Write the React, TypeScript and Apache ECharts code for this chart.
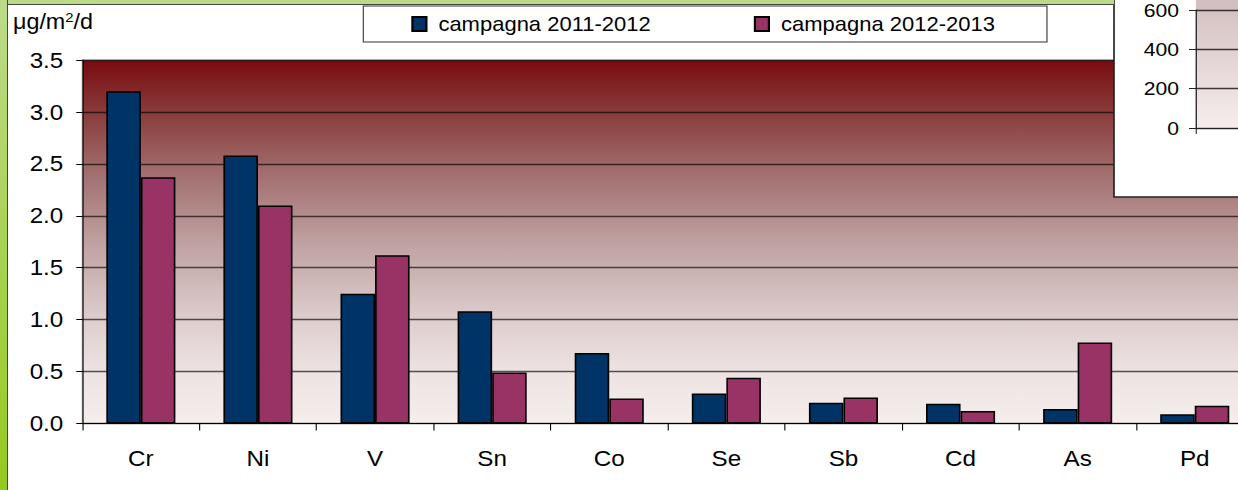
import React, { useEffect, useRef } from "react";
import * as echarts from "echarts";

const categories = ["Cr", "Ni", "V", "Sn", "Co", "Se", "Sb", "Cd", "As", "Pd"];
const seriesNames = ["campagna 2011-2012", "campagna 2012-2013"];
const campagna2011 = [3.2, 2.58, 1.25, 1.08, 0.68, 0.29, 0.2, 0.19, 0.14, 0.09];
const campagna2012 = [2.37, 2.1, 1.62, 0.49, 0.24, 0.44, 0.25, 0.12, 0.78, 0.17];
const yMin = 0;
const yMax = 3.5;
const yInterval = 0.5;
const insetCategories = [""];
const insetMin = 0;
const insetMax = 600;
const insetInterval = 200;

const S = 1.1;
const FONT = "'Liberation Sans', Arial, Helvetica, sans-serif";
const px = (x: number) => x / S;

export default function App() {
  const ref = useRef<HTMLDivElement>(null);
  useEffect(() => {
    document.body.style.margin = "0";
    const chart = echarts.init(ref.current!, undefined, { renderer: "svg" });
    const mainBg = new echarts.graphic.LinearGradient(0, 0, 0, 1, [
      { offset: 0, color: "#790b0f" },
      { offset: 0.15, color: "#8a3d3d" },
      { offset: 0.3, color: "#a06b6b" },
      { offset: 0.5, color: "#bfa0a0" },
      { offset: 0.7, color: "#dccbcb" },
      { offset: 0.85, color: "#ece2e1" },
      { offset: 1, color: "#f5eeed" },
    ]);
    const insetBg = new echarts.graphic.LinearGradient(0, 0, 0, 1, [
      { offset: 0, color: "#d6c3c3" },
      { offset: 1, color: "#f5eeed" },
    ]);
    chart.setOption({
      animation: false,
      textStyle: { fontFamily: FONT },
      title: {
        text: "{a|μg/m}{b|2}{a|/d}",
        left: px(13),
        top: 10,
        padding: 0,
        textStyle: {
          fontWeight: "normal",
          rich: {
            a: { fontSize: 21.2, fontWeight: "normal", color: "#000", fontFamily: FONT, lineHeight: 24 },
            b: {
              fontSize: 13.5,
              fontWeight: "normal",
              color: "#000",
              fontFamily: FONT,
              verticalAlign: "top",
              lineHeight: 24,
              padding: [0, 0, 10, 0],
            },
          },
        },
      },
      legend: {
        left: px(363.3),
        top: 6,
        padding: [8, px(52), 8, px(48)],
        itemGap: px(103),
        itemWidth: px(14),
        itemHeight: 14,
        icon: "rect",
        backgroundColor: "#fff",
        borderColor: "#333",
        borderWidth: 1,
        textStyle: { fontSize: 20, color: "#000", fontFamily: FONT, padding: [0, 0, 0, px(12) - 5] },
        data: seriesNames,
      },
      grid: [
        {
          left: px(82.3),
          top: 60,
          width: px(1171),
          height: 363.5,
          show: true,
          backgroundColor: mainBg,
          borderColor: "#999",
          borderWidth: 1,
        },
        {
          left: px(1196),
          top: 10,
          width: px(120),
          height: 118,
          show: true,
          backgroundColor: insetBg,
          borderWidth: 0,
          z: 101,
        },
      ],
      xAxis: [
        {
          type: "category",
          gridIndex: 0,
          data: categories,
          axisLine: { lineStyle: { color: "#000", width: 1 } },
          axisTick: { show: true, length: 7, lineStyle: { color: "#000", width: 1 } },
          axisLabel: { fontSize: 22, color: "#000", margin: 23.5, fontFamily: FONT },
          splitLine: { show: false },
        },
        {
          type: "category",
          gridIndex: 1,
          data: insetCategories,
          z: 101,
          axisLine: { lineStyle: { color: "#222", width: 1.2 } },
          axisTick: { show: true, length: 6, lineStyle: { color: "#222" } },
          axisLabel: { show: false },
          splitLine: { show: false },
        },
      ],
      yAxis: [
        {
          type: "value",
          gridIndex: 0,
          min: yMin,
          max: yMax,
          interval: yInterval,
          axisLine: { show: true, lineStyle: { color: "#000", width: 1 } },
          axisTick: { show: true, length: px(6), lineStyle: { color: "#000" } },
          axisLabel: {
            fontSize: 22,
            color: "#000",
            margin: px(19),
            fontFamily: FONT,
            formatter: (v: number) => v.toFixed(1),
          },
          splitLine: { show: true, lineStyle: { color: "rgba(0,0,0,0.65)", width: 1.3 } },
        },
        {
          type: "value",
          gridIndex: 1,
          min: insetMin,
          max: insetMax,
          interval: insetInterval,
          z: 101,
          axisLine: { show: true, lineStyle: { color: "#222", width: 1.2 } },
          axisTick: { show: true, length: px(7), lineStyle: { color: "#222" } },
          axisLabel: { fontSize: 19.2, color: "#000", margin: px(17), fontFamily: FONT },
          splitLine: { show: true, lineStyle: { color: "rgba(0,0,0,0.75)", width: 1.3 } },
        },
      ],
      graphic: [
        {
          type: "rect",
          z: 100,
          shape: { x: px(1114), y: -2, width: px(200), height: 199 },
          style: { fill: "#fff", stroke: "#222", lineWidth: 1.5 },
        },
        {
          type: "rect",
          z: 100,
          shape: { x: px(1196), y: -2, width: px(120), height: 12 },
          style: { fill: "#d3bfbf" },
        },
      ],
      series: [
        {
          name: seriesNames[0],
          type: "bar",
          xAxisIndex: 0,
          yAxisIndex: 0,
          data: campagna2011,
          barGap: "0%",
          barCategoryGap: "41%",
          itemStyle: { color: "#003366", borderColor: "#000", borderWidth: 1.5 },
        },
        {
          name: seriesNames[1],
          type: "bar",
          xAxisIndex: 0,
          yAxisIndex: 0,
          data: campagna2012,
          barGap: "0%",
          barCategoryGap: "41%",
          itemStyle: { color: "#993366", borderColor: "#000", borderWidth: 1.5 },
        },
      ],
    });
    return () => chart.dispose();
  }, []);
  return (
    <div style={{ position: "relative", width: 1238, height: 490, overflow: "hidden", background: "#fff" }}>
      <div
        ref={ref}
        style={{
          position: "absolute",
          left: 0,
          top: 0,
          width: 1300 / S,
          height: 490,
          transform: `scaleX(${S})`,
          transformOrigin: "0 0",
        }}
      />
      <div
        style={{
          position: "absolute",
          left: 0,
          top: 0,
          width: 1114,
          height: 4,
          background: "#bada88",
          borderBottom: "1px solid #444",
        }}
      />
      <div
        style={{
          position: "absolute",
          left: 0,
          top: 0,
          width: 7,
          height: 490,
          background: "linear-gradient(#bcdb8a, #96c91f)",
          borderRight: "1px solid #444",
        }}
      />
    </div>
  );
}
